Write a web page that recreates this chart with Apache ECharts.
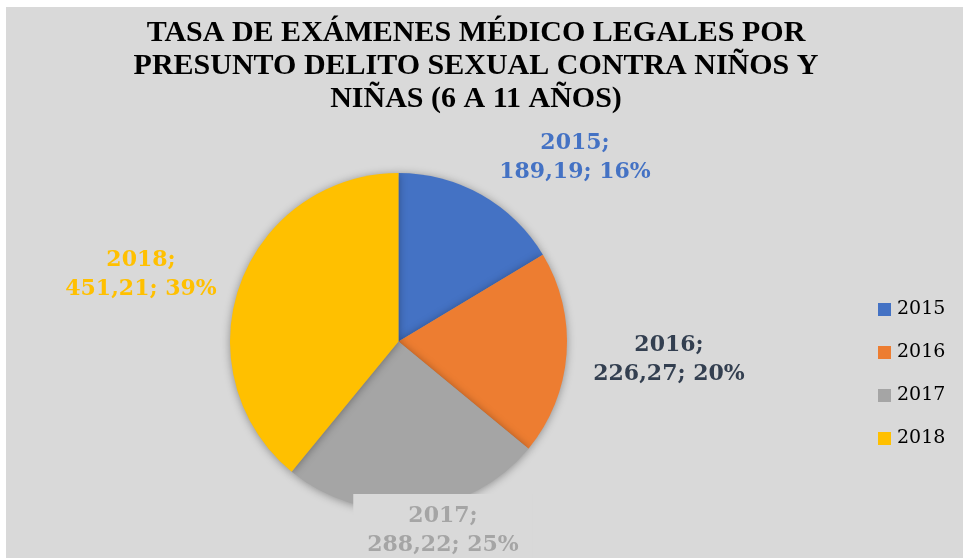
<!DOCTYPE html>
<html>
<head>
<meta charset="utf-8">
<script src="https://cdn.jsdelivr.net/npm/echarts@6/dist/echarts.min.js"></script>
<style>
  html, body { margin: 0; padding: 0; background: #fff; }
  #chart { position: absolute; left: 6px; top: 7px; width: 957px; height: 551px; }
</style>
</head>
<body>
<div id="chart"></div>
<script>
// datos del gráfico
const years = ["2015", "2016", "2017", "2018"];
const rates = [189.19, 226.27, 288.22, 451.21];
const sliceColors = ["#4472C4", "#ED7D31", "#A5A5A5", "#FFC000"];
const labelColors = ["#4472C4", "#333F50", "#A5A5A5", "#FFC000"];
// posiciones de las etiquetas (centro del texto, en px del contenedor)
const labelSpots = [[569, 151], [663, 353], [437, 524], [135, 268]];

const chart = echarts.init(document.getElementById("chart"));

const option = {
  animation: false,
  backgroundColor: "#D9D9D9",
  color: sliceColors,
  title: {
    text: "TASA DE EXÁMENES MÉDICO LEGALES POR\nPRESUNTO DELITO SEXUAL CONTRA NIÑOS Y\nNIÑAS (6 A 11 AÑOS)",
    left: 465,
    top: 5,
    textAlign: "center",
    textStyle: {
      fontFamily: "Liberation Serif",
      fontWeight: "bold",
      fontSize: 30,
      lineHeight: 33,
      color: "#000"
    }
  },
  legend: {
    orient: "vertical",
    left: 872,
    top: 293,
    padding: 0,
    itemWidth: 13,
    itemHeight: 13,
    itemGap: 24,
    icon: "rect",
    data: years,
    textStyle: {
      fontFamily: "DejaVu Serif",
      fontSize: 19,
      lineHeight: 14,
      color: "#000",
      padding: [0, 0, 0, 1]
    }
  },
  series: [
    {
      type: "pie",
      center: [392.5, 334.5],
      radius: 168.5,
      startAngle: 90,
      clockwise: true,
      itemStyle: {
        shadowBlur: 8,
        shadowColor: "rgba(0,0,0,0.35)",
        shadowOffsetY: 1
      },
      emphasis: { disabled: true },
      labelLine: { show: false },
      label: {
        show: true,
        position: "outside",
        fontFamily: "DejaVu Serif",
        fontWeight: "bold",
        fontSize: 22,
        lineHeight: 29,
        align: "center",
        formatter: (p) => {
          const v = p.value.toFixed(2).replace(".", ",");
          return p.name + ";\n" + v + "; " + Math.round(p.percent) + "%";
        }
      },
      labelLayout: (params) => {
        const spot = labelSpots[params.dataIndex];
        return { x: spot[0], y: spot[1], align: "center", verticalAlign: "middle" };
      },
      data: years.map((y, i) => ({
        name: y,
        value: rates[i],
        label: i === 2
          ? { color: labelColors[i], backgroundColor: "#D9D9D9", padding: [8, 14, 8, 14] }
          : { color: labelColors[i] }
      }))
    }
  ]
};

chart.setOption(option);
window.addEventListener("resize", () => chart.resize());
</script>
</body>
</html>
